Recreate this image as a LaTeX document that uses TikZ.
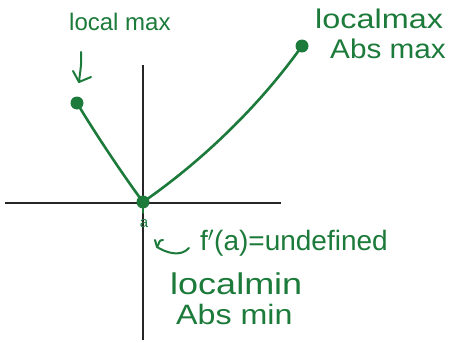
\documentclass[tikz,border=0pt]{standalone}
\usepackage{fontspec}
\setmainfont{Liberation Sans}
\definecolor{pen}{RGB}{28,122,58}
\begin{document}
\begin{tikzpicture}[x=1pt,y=-1pt,
  axis/.style={line width=1.1pt,black!85},
  curve/.style={pen,line width=2.6pt,line cap=round,line join=round},
  dot/.style={circle,fill=pen,inner sep=0pt,minimum size=13pt},
  hand/.style={text=pen,inner sep=0pt,anchor=west}]
\useasboundingbox (0,0) rectangle (451,343);
% axes
\coordinate (yt) at (143,65);
\coordinate (yb) at (143,340);
\coordinate (xl) at (5,203);
\coordinate (xr) at (281,203);
\draw[axis] (yt) -- (yb);
\draw[axis] (xl) -- (xr);
% points
\node[dot] (L) at (77,103) {};
\node[dot] (M) at (143,202) {};
\node[dot] (R) at (302,46) {};
\draw[curve] (L.center) .. controls (92,128) and (118,168) .. (M.center);
\draw[curve] (M.center) .. controls (195,166) and (255,112) .. (R.center);
% labels
\node[hand,font=\fontsize{24}{26}\selectfont] (lm1) at (69,22) {local max};
\node[hand,font=\fontsize{27}{30}\selectfont,xscale=1.2] (lm2) at (315,19) {localmax};
\node[hand,font=\fontsize{27}{30}\selectfont,xscale=1.1] (am) at (330,49) {Abs max};
\node[hand,anchor=center,font=\fontsize{15}{15}\selectfont] (a) at (144,224) {a};
\coordinate (tk1) at (143,208);
\coordinate (tk2) at (143,213);
\draw[curve,line width=1.4pt] (tk1) -- (tk2);
% hook arrow near local max
\coordinate (h1) at (81,52);
\coordinate (h2) at (79,82);
\coordinate (h3) at (91,77);
\coordinate (h4) at (73,71);
\draw[curve,line width=2pt] (h1) .. controls (82,63) and (80,72) .. (h2) -- (h3);
\draw[curve,line width=2pt] (h2) -- (h4);
% curly arrow
\node[hand,font=\fontsize{28}{30}\selectfont] (fp) at (200,243) {f$'$(a)=undefined};
\coordinate (c1) at (189,248);
\coordinate (c2) at (157,247);
\draw[curve,line width=2pt] (c1) .. controls (180,258) and (165,252) .. (c2) .. controls (160,243) and (158,240) .. (163,240);
\draw[curve,line width=2pt] (c2) -- (155,240);
\node[hand,font=\fontsize{30}{32}\selectfont,xscale=1.2] (lmin) at (170,284) {localmin};
\node[hand,font=\fontsize{28}{30}\selectfont,xscale=1.15] (amin) at (176,314) {Abs min};
\end{tikzpicture}
\end{document}
